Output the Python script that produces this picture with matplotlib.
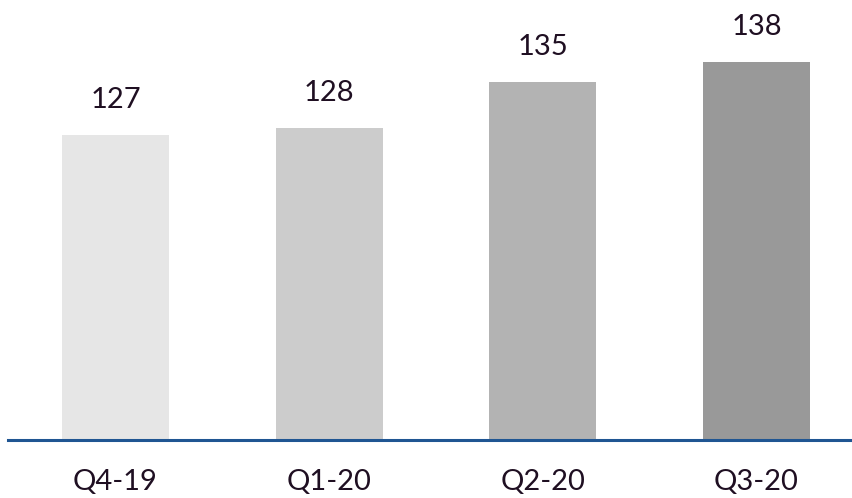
import matplotlib.pyplot as plt

quarters = ["Q4-19", "Q1-20", "Q2-20", "Q3-20"]
values = [127, 128, 135, 138]
bar_colors = ["#e6e6e6", "#cccccc", "#b3b3b3", "#999999"]

plt.rcParams['font.family'] = ['Lato', 'DejaVu Sans']

fig = plt.figure(figsize=(8.52, 4.98), dpi=100)
ax = fig.add_axes([8 / 852, 58 / 498, 844 / 852, 440 / 498])

x = range(len(quarters))
bars = ax.bar(x, values, width=0.5, color=bar_colors)

ax.set_xlim(-0.503, 3.447)
ax.set_ylim(81.04, 147.35)

for rect, v in zip(bars, values):
    ax.annotate(str(v), (rect.get_x() + rect.get_width() / 2, v),
                xytext=(0, 25.5), textcoords="offset points",
                ha="center", va="center", fontsize=21, color="#1f0f22")

ax.set_xticks(list(x))
ax.set_xticklabels(quarters, fontsize=21, color="#1f0f22")
ax.tick_params(axis="x", length=0, pad=21)
ax.set_yticks([])

for side in ["top", "right", "left"]:
    ax.spines[side].set_visible(False)
ax.spines["bottom"].set_color("#1f5592")
ax.spines["bottom"].set_linewidth(2.2)

fig.savefig("out.png", dpi=100)
